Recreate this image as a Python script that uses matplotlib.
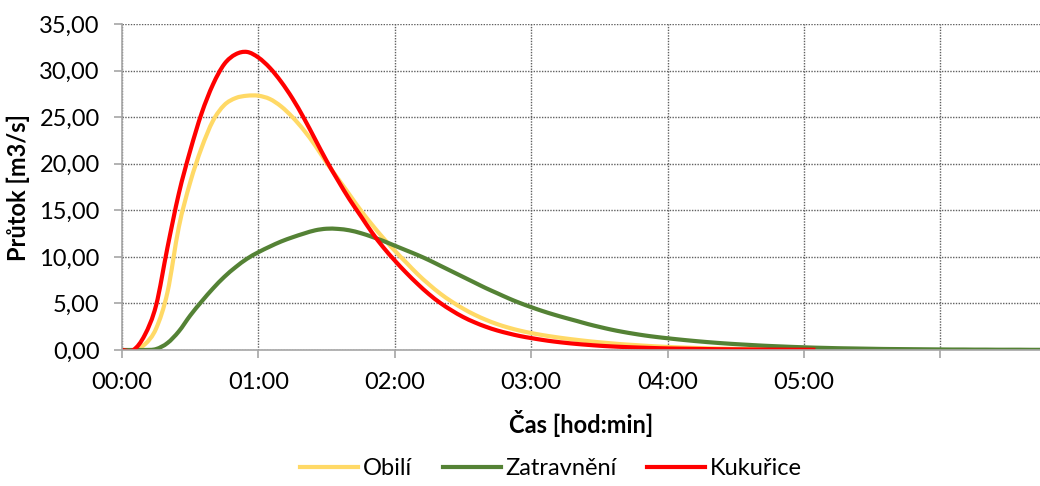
import matplotlib
matplotlib.use("Agg")
import matplotlib.pyplot as plt
from matplotlib.path import Path
from matplotlib.patches import PathPatch
from matplotlib.lines import Line2D
import numpy as np

# time in minutes (5-minute steps)
red_minutes = list(range(0, 310, 5))
kukurice = [0, 0, 1.6, 4.8, 11.0, 16.8, 21.4, 25.4, 28.5, 30.7, 31.75, 32.0, 31.4, 30.3,
            28.8, 27.0, 24.9, 22.6, 20.3, 18.2, 16.2, 14.4, 12.6, 11.0, 9.6, 8.3, 7.1,
            6.0, 5.05, 4.25, 3.55, 2.98, 2.5, 2.1, 1.78, 1.5, 1.28, 1.08, 0.91, 0.77,
            0.65, 0.55, 0.46, 0.39, 0.33, 0.28, 0.24, 0.20, 0.17, 0.15, 0.13, 0.11, 0.09,
            0.08, 0.07, 0.06, 0.05, 0.04, 0.04, 0.03, 0.03, 0.02]

yellow_minutes = list(range(0, 325, 5))
obili = [0, 0, 0.6, 2.3, 6.2, 13.2, 18.0, 21.7, 24.6, 26.3, 27.05, 27.3, 27.3, 26.95,
         26.15, 25.0, 23.6, 21.95, 20.1, 18.4, 16.7, 15.0, 13.45, 12.0, 10.65, 9.4, 8.15,
         7.05, 6.05, 5.2, 4.45, 3.8, 3.25, 2.78, 2.4, 2.08, 1.82, 1.6, 1.41, 1.24, 1.09,
         0.95, 0.83, 0.72, 0.62, 0.54, 0.46, 0.39, 0.33, 0.28, 0.24, 0.2, 0.17, 0.14,
         0.12, 0.1, 0.08, 0.07, 0.06, 0.05, 0.04, 0.04, 0.03, 0.03, 0.02]

green_minutes = list(range(0, 410, 5))
zatravneni = [0, 0, 0, 0.1, 0.75, 2.0, 3.7, 5.2, 6.6, 7.85, 8.9, 9.8, 10.5, 11.1, 11.65,
              12.1, 12.5, 12.85, 13.02, 13.0, 12.85, 12.55, 12.15, 11.7, 11.2, 10.7, 10.2,
              9.65, 9.05, 8.45, 7.85, 7.25, 6.65, 6.1, 5.55, 5.05, 4.6, 4.18, 3.8, 3.45,
              3.12, 2.78, 2.48, 2.2, 1.96, 1.75, 1.56, 1.4, 1.26, 1.13, 1.01, 0.9, 0.8,
              0.71, 0.63, 0.56, 0.49, 0.43, 0.38, 0.33, 0.29, 0.25, 0.22, 0.19, 0.17,
              0.15, 0.13, 0.11, 0.1, 0.09, 0.08, 0.07, 0.06, 0.05, 0.05, 0.04, 0.04,
              0.03, 0.03, 0.03, 0.02, 0.02]

x_tick_labels = ["00:00", "01:00", "02:00", "03:00", "04:00", "05:00", ""]
y_ticks = [0, 5, 10, 15, 20, 25, 30, 35]

plt.rcParams['font.family'] = ['Lato', 'DejaVu Sans']
FS = 17


def smooth_path(xs, ys):
    """Catmull-Rom style smoothed line (like a spreadsheet 'smoothed line')."""
    P = np.column_stack([xs, ys]).astype(float)
    n = len(P)
    verts = [P[0]]
    codes = [Path.MOVETO]
    for i in range(n - 1):
        p0 = P[i - 1] if i > 0 else P[i]
        p1 = P[i]
        p2 = P[i + 1]
        p3 = P[i + 2] if i + 2 < n else P[i + 1]
        c1 = p1 + (p2 - p0) / 6.0
        c2 = p2 - (p3 - p1) / 6.0
        verts += [c1, c2, p2]
        codes += [Path.CURVE4] * 3
    return Path(verts, codes)


fig = plt.figure(figsize=(10.4, 4.86), dpi=100)
ax = fig.add_axes([122/1040, 1-350/486, 1-122/1040, (350-24)/486])

LW = 3.0
series = [
    (yellow_minutes, obili, "#FFD966", "Obilí"),
    (green_minutes, zatravneni, "#548235", "Zatravnění"),
    (red_minutes, kukurice, "#FF0000", "Kukuřice"),
]
handles = []
for mins, vals, col, lab in series:
    path = smooth_path(np.array(mins) / 60.0, vals)
    ax.add_patch(PathPatch(path, facecolor="none", edgecolor=col, lw=LW,
                           capstyle='butt', joinstyle='round'))
    handles.append(Line2D([], [], color=col, lw=LW, label=lab))

ax.set_xlim(0, 6.73)
ax.set_ylim(0, 35)
ax.set_xticks(range(len(x_tick_labels)))
ax.set_xticklabels(x_tick_labels)
ax.set_yticks(y_ticks)
ax.set_yticklabels([f"{v:.2f}".replace(".", ",") for v in y_ticks])

ax.grid(True, color="#606060", linestyle=(0, (1, 1)), lw=1.0)
ax.set_axisbelow(True)
for s in ["top", "right"]:
    ax.spines[s].set_visible(False)
for s in ["left", "bottom"]:
    ax.spines[s].set_color("#A6A6A6")
    ax.spines[s].set_linewidth(1.2)
ax.tick_params(axis='both', colors="#A6A6A6", length=6, width=1.2, labelsize=FS,
               labelcolor="black")
ax.tick_params(axis='x', pad=10)
ax.tick_params(axis='y', pad=10)

ax.set_xlabel("Čas [hod:min]", fontsize=FS, fontweight="bold", labelpad=12)
ax.set_ylabel("Průtok [m3/s]", fontsize=FS, fontweight="bold", labelpad=7)

fig.legend(handles=handles, loc="center", bbox_to_anchor=(0.53, 0.035), ncol=3,
           frameon=False, fontsize=FS, handlelength=2.45, columnspacing=1.3,
           handletextpad=0.2)

fig.savefig("out.png", dpi=100)
